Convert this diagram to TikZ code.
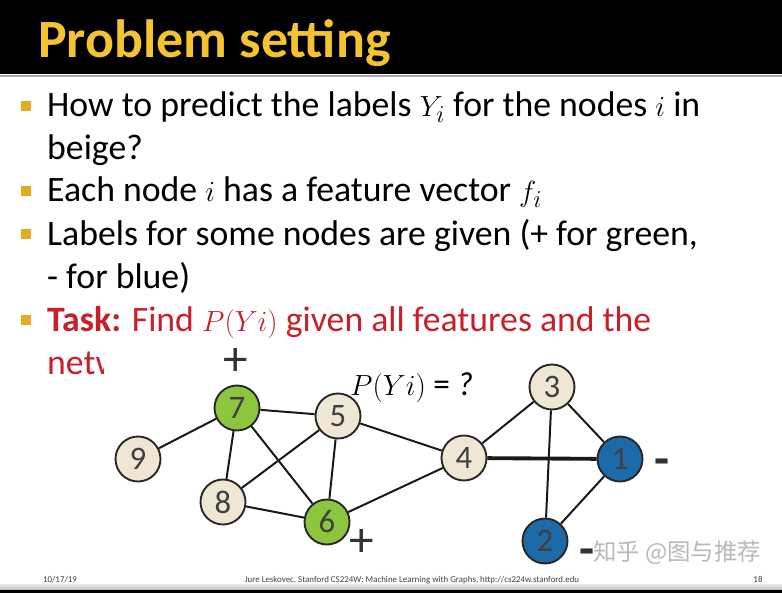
\documentclass[tikz,border=0pt]{standalone}
\usepackage{fontspec}
\setmainfont{Carlito}
\newfontfamily\cjkfont{Noto Sans CJK SC}
\usetikzlibrary{positioning}
\definecolor{titleyellow}{HTML}{F4C430}
\definecolor{bulletyellow}{HTML}{E3AA22}
\definecolor{taskred}{HTML}{C8202A}
\definecolor{nodegreen}{HTML}{8CC63F}
\definecolor{nodebeige}{HTML}{EFE6D4}
\definecolor{nodeblue}{HTML}{1C6BA8}

\begin{document}
\begin{tikzpicture}[
    x=0.03cm, y=-0.03cm,
    bodytext/.style={anchor=base west, inner sep=0pt, font=\fontsize{30.5}{36}\selectfont},
    bullet/.style={rectangle, fill=bulletyellow, minimum size=0.28cm, inner sep=0pt},
    vertex/.style={circle, draw=black!85, line width=1.6pt, minimum size=1.35cm, inner sep=0pt, font=\fontsize{28}{28}\selectfont, text=black!75},
    beigenode/.style={vertex, fill=nodebeige},
    greennode/.style={vertex, fill=nodegreen},
    bluenode/.style={vertex, fill=nodeblue},
    link/.style={draw=black!90, line width=1.7pt},
    sign/.style={inner sep=0pt, font=\fontsize{42}{42}\selectfont, text=black!80},
    footer/.style={anchor=base, inner sep=0pt, font=\fontsize{7.6}{8}\selectfont, text=black!75},
]
\useasboundingbox (0,0) rectangle (782,593);
\fill[white] (0,0) rectangle (782,593);

% title bar
\fill[black] (0,0) rectangle (782,74);
\draw[gray!70, line width=1.2pt] (0,76) -- (782,76);
\node[anchor=base west, inner sep=0pt, text=titleyellow, font=\fontsize{46}{46}\bfseries\selectfont] (title) at (38,58) {Problem setting};

% bullets
\foreach \y in {117,202,245,331}
  \node[bullet] (b\y) at (26,\y-11) {};
\node[bodytext] (l1) at (47,117) {How to predict the labels $Y_i$ for the nodes $i$ in};
\node[bodytext] (l2) at (47,160) {beige?};
\node[bodytext] (l3) at (47,202) {Each node $i$ has a feature vector $f_i$};
\node[bodytext] (l4) at (47,245) {Labels for some nodes are given (+ for green,};
\node[bodytext] (l5) at (47,288) {- for blue)};
\node[bodytext, text=taskred] (l6) at (47,331) {\textbf{Task:} Find $P(Yi)$ given all features and the};
\begin{scope}
  \clip (40,340) rectangle (103,385);
  \node[bodytext, text=taskred] (l7) at (47,374) {network.};
\end{scope}

% graph
\node[greennode] (n7) at (237,408) {7};
\node[beigenode] (n5) at (338,416) {5};
\node[beigenode] (n9) at (138,459) {9};
\node[beigenode] (n8) at (223,502) {8};
\node[greennode] (n6) at (327,522) {6};
\node[beigenode] (n4) at (464,458) {4};
\node[beigenode] (n3) at (552,387) {3};
\node[bluenode]  (n1) at (620,459) {1};
\node[bluenode]  (n2) at (545,541) {2};

\foreach \a/\b in {n9/n7, n7/n5, n7/n8, n7/n6, n5/n8, n5/n6, n5/n4, n8/n6, n6/n4, n4/n3, n3/n1, n3/n2, n1/n2}
  \draw[link] (\a) -- (\b);
\draw[link, line width=3.3pt] (n4) -- (n1);

\node[sign] (p7) at (236,362) {+};
\node[sign] (p6) at (362,543) {+};
\node[sign] (m1) at (662,467) {\textbf{-}};
\node[sign] (m2) at (587,557) {\textbf{-}};
\node[anchor=base west, inner sep=0pt, font=\fontsize{28.5}{28.5}\selectfont] (query) at (350,395) {$P(Yi)$ = \textit{?}};

\node[inner sep=0pt, text=gray!55, font=\cjkfont\fontsize{20}{20}\selectfont] (mark) at (677,553) {知乎 @图与推荐};

% footer
\node[footer] (date) at (60,582) {10/17/19};
\node[footer] (credit) at (412,582) {Jure Leskovec, Stanford CS224W: Machine Learning with Graphs, http://cs224w.stanford.edu};
\node[footer] (page) at (758,582) {18};
\shade[top color=gray!15, bottom color=gray!55] (0,584) rectangle (782,590);
\fill[black] (0,590) rectangle (782,593);
\end{tikzpicture}
\end{document}
